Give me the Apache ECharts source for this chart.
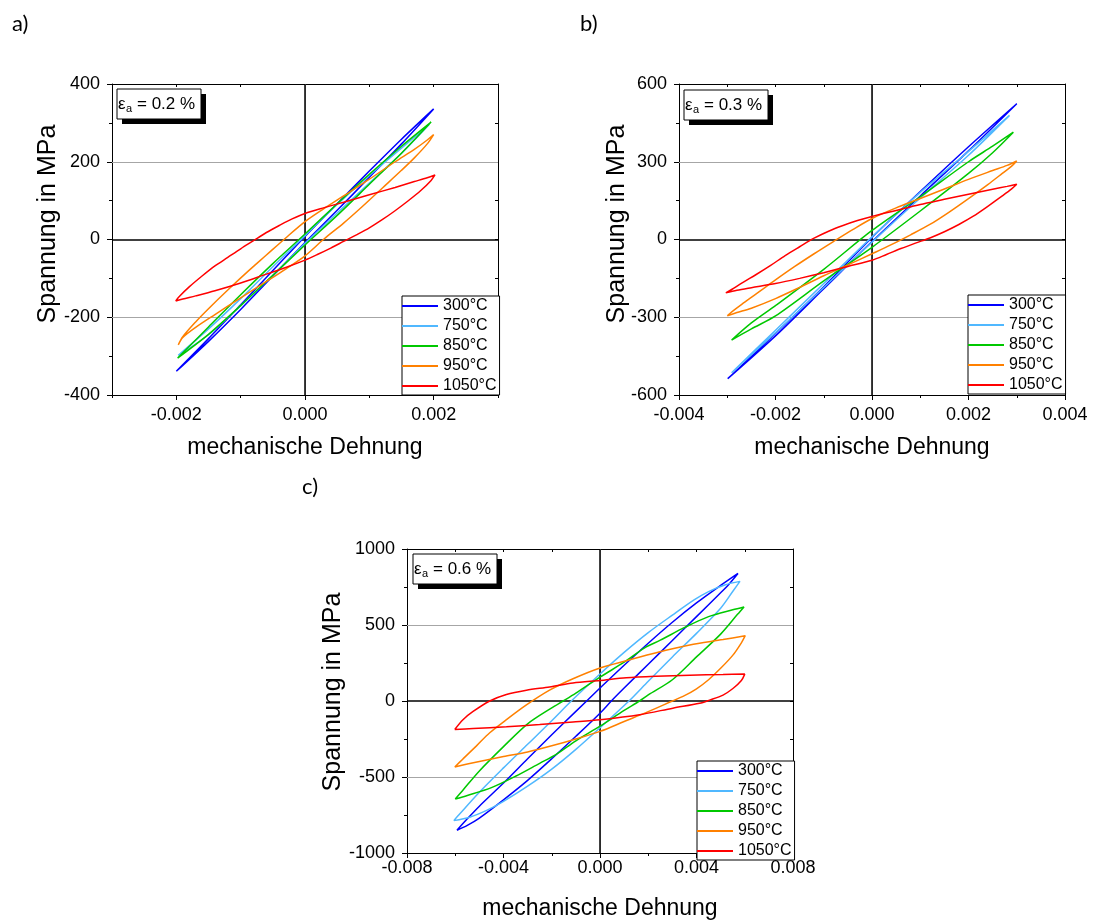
<!DOCTYPE html>
<html>
<head>
<meta charset="utf-8">
<script src="https://cdn.jsdelivr.net/npm/echarts@6/dist/echarts.min.js"></script>
<style>
html,body{margin:0;padding:0;background:#fff;}
#chart{width:1093px;height:921px;}
</style>
</head>
<body>
<div id="chart"></div>
<script>
// ---------- categories / labels ----------
const temps = ['300°C', '750°C', '850°C', '950°C', '1050°C'];
const colors = ['#0000FF', '#50B8FF', '#00C800', '#FF8000', '#FF0000'];
const panelLabels = ['a)', 'b)', 'c)'];
const ampLabels = ['0.2 %', '0.3 %', '0.6 %'];
const xTitle = 'mechanische Dehnung';
const yTitle = 'Spannung in MPa';

// ---------- axis ranges / ticks ----------
const aXRange = [-0.003, 0.003];
const aXMajor = [-0.002, 0, 0.002];
const aYRange = [-400, 400];
const bXRange = [-0.004, 0.004];
const bYRange = [-600, 600];
const cXRange = [-0.008, 0.008];
const cYRange = [-1000, 1000];
const aGridX = [-0.002, 0.002], aGridY = [-200, 200];
const bGridX = [-0.002, 0.002], bGridY = [-300, 300];
const cGridX = [-0.004, 0.004], cGridY = [-500, 500];

// ---------- panel a (ea = 0.2 %) ----------
const a300 = [[-0.002,-339],[-0.0015,-255],[-0.001,-168],[-0.0005,-80],[0,8],[0.0005,92],[0.001,176],[0.0015,258],[0.002,336],
  [0.0015,246],[0.001,160],[0.0005,75],[0,-8],[-0.0005,-94],[-0.001,-180],[-0.0015,-262],[-0.002,-339]];
const a750 = [[-0.00197,-298],[-0.0015,-230],[-0.001,-152],[-0.0005,-70],[0,10],[0.0005,90],[0.001,165],[0.0015,235],[0.00193,296],
  [0.0015,222],[0.001,145],[0.0005,68],[0,-10],[-0.0005,-92],[-0.001,-170],[-0.0015,-245],[-0.00197,-298]];
const a850 = [[-0.00198,-305],[-0.0015,-225],[-0.001,-142],[-0.0005,-62],[0,14],[0.0005,92],[0.001,168],[0.0015,240],[0.00196,302],
  [0.0015,222],[0.001,142],[0.0005,62],[0,-14],[-0.0005,-92],[-0.001,-170],[-0.0015,-244],[-0.00198,-305]];
const a950 = [[-0.00197,-271],[-0.0019,-250],[-0.0017,-212],[-0.0015,-178],[-0.0012,-130],[-0.0009,-84],[-0.0006,-40],[-0.0003,4],[0,46],[0.0003,80],[0.0006,112],[0.001,155],[0.0014,200],[0.0017,232],[0.0019,256],[0.002,270],
  [0.0019,246],[0.0017,210],[0.0015,178],[0.0012,132],[0.0009,86],[0.0006,42],[0.0003,2],[0,-42],[-0.0003,-76],[-0.0006,-108],[-0.001,-150],[-0.0014,-193],[-0.0017,-226],[-0.0019,-252],[-0.00197,-271]];
const a1050 = [[-0.00201,-158],[-0.00195,-146],[-0.0018,-122],[-0.0016,-94],[-0.0014,-68],[-0.0012,-46],[-0.001,-24],[-0.0008,-3],[-0.0006,18],[-0.0004,36],[-0.0002,53],[0,67],[0.0003,82],[0.0006,96],[0.001,115],[0.0014,134],[0.0017,149],[0.0019,159],[0.00202,166],
  [0.00196,152],[0.0018,126],[0.0016,99],[0.0014,74],[0.0012,51],[0.001,30],[0.0008,12],[0.0006,-5],[0.0004,-22],[0.0002,-38],[0,-53],[-0.0003,-72],[-0.0006,-89],[-0.001,-112],[-0.0014,-132],[-0.0017,-145],[-0.0019,-153],[-0.00201,-158]];

// ---------- panel b (ea = 0.3 %) ----------
const b300 = [[-0.00299,-537],[-0.002,-362],[-0.001,-182],[0,8],[0.001,185],[0.002,358],[0.003,524],
  [0.002,342],[0.001,168],[0,-8],[-0.001,-190],[-0.002,-372],[-0.00299,-537]];
const b750 = [[-0.00291,-514],[-0.002,-350],[-0.001,-170],[0,10],[0.001,182],[0.002,340],[0.00285,479],
  [0.002,325],[0.001,160],[0,-10],[-0.001,-185],[-0.002,-360],[-0.00291,-514]];
const b850 = [[-0.00291,-388],[-0.0025,-322],[-0.002,-255],[-0.001,-115],[0,35],[0.001,165],[0.002,300],[0.0025,360],[0.00293,414],
  [0.0025,335],[0.002,255],[0.001,110],[0,-30],[-0.001,-160],[-0.002,-295],[-0.0025,-345],[-0.00291,-388]];
const b950 = [[-0.003,-294],[-0.0029,-278],[-0.0027,-250],[-0.0024,-210],[-0.002,-156],[-0.0016,-104],[-0.0012,-55],[-0.0008,-8],[-0.0004,38],[0,81],[0.0005,122],[0.001,158],[0.0015,195],[0.002,232],[0.0025,266],[0.0028,286],[0.003,303],
  [0.0029,284],[0.0027,255],[0.0024,212],[0.002,158],[0.0016,106],[0.0012,58],[0.0008,18],[0.0004,-20],[0,-55],[-0.0005,-98],[-0.001,-140],[-0.0015,-185],[-0.002,-228],[-0.0025,-265],[-0.0028,-282],[-0.003,-294]];
const b1050 = [[-0.00303,-206],[-0.0029,-192],[-0.0027,-168],[-0.0024,-135],[-0.0021,-100],[-0.0018,-62],[-0.0015,-28],[-0.0012,5],[-0.0009,32],[-0.0006,54],[-0.0003,73],[0,89],[0.0005,112],[0.001,135],[0.0015,155],[0.002,175],[0.0025,194],[0.0028,205],[0.003,213],
  [0.0029,196],[0.0027,168],[0.0024,128],[0.0021,90],[0.0018,58],[0.0015,30],[0.0012,6],[0.0009,-14],[0.0006,-35],[0.0003,-58],[0,-80],[-0.0005,-104],[-0.001,-128],[-0.0015,-150],[-0.002,-170],[-0.0025,-186],[-0.0028,-196],[-0.00303,-206]];

// ---------- panel c (ea = 0.6 %) ----------
const c300 = [[-0.00593,-850],[-0.0055,-775],[-0.005,-692],[-0.004,-540],[-0.003,-380],[-0.002,-222],[-0.001,-68],[0,85],[0.001,235],[0.002,380],[0.003,518],[0.004,645],[0.005,760],[0.00572,839],
  [0.0053,760],[0.005,712],[0.004,555],[0.003,398],[0.002,242],[0.001,85],[0.00047,0],[0,-80],[-0.001,-232],[-0.002,-380],[-0.003,-522],[-0.004,-650],[-0.005,-770],[-0.0055,-818],[-0.00593,-850]];
const c750 = [[-0.00606,-787],[-0.0058,-740],[-0.005,-600],[-0.004,-440],[-0.003,-285],[-0.002,-130],[-0.00119,0],[0,178],[0.001,320],[0.002,450],[0.003,565],[0.0039,665],[0.0045,720],[0.0052,765],[0.0058,787],
  [0.0055,720],[0.005,610],[0.004,445],[0.003,290],[0.002,130],[0.0012,0],[0,-176],[-0.001,-318],[-0.002,-448],[-0.003,-560],[-0.004,-660],[-0.0047,-720],[-0.0054,-765],[-0.00606,-787]];
const c850 = [[-0.006,-645],[-0.0057,-590],[-0.005,-460],[-0.004,-300],[-0.003,-150],[-0.002,-45],[-0.00153,0],[-0.001,52],[0,157],[0.001,255],[0.00185,350],[0.0025,400],[0.00351,484],[0.0045,555],[0.0055,600],[0.00597,619],
  [0.0057,570],[0.005,440],[0.004,290],[0.003,140],[0.002,40],[0.00164,0],[0.001,-62],[0,-166],[-0.001,-262],[-0.00185,-355],[-0.0025,-410],[-0.0035,-495],[-0.0045,-570],[-0.0055,-622],[-0.006,-645]];
const c950 = [[-0.00602,-434],[-0.00568,-381],[-0.00512,-295],[-0.00457,-209],[-0.00388,-123],[-0.00305,-26],[-0.00209,71],[-0.00112,146],[0,217],[0.00109,265],[0.00233,318],[0.00372,368],[0.0051,404],[0.00602,430],
  [0.00586,383],[0.0055,300],[0.005,215],[0.0045,140],[0.004,80],[0.0035,35],[0.003,0],[0.002,-70],[0.001,-135],[0,-200],[-0.001,-250],[-0.002,-295],[-0.003,-335],[-0.004,-365],[-0.005,-398],[-0.0055,-415],[-0.00602,-434]];
const c1050 = [[-0.00602,-187],[-0.00568,-123],[-0.00526,-69],[-0.00457,0],[-0.00388,43],[-0.00305,71],[-0.00209,92],[-0.00112,118],[0,135],[0.00109,153],[0.00233,163],[0.00372,170],[0.0051,174],[0.006,177],
  [0.00586,135],[0.00551,82],[0.0051,39],[0.00454,6],[0.00413,-15],[0.00302,-47],[0.00164,-90],[0,-123],[-0.00112,-138],[-0.0025,-155],[-0.00388,-170],[-0.00526,-181],[-0.00602,-187]];

const panelA = [a300, a750, a850, a950, a1050];
const panelB = [b300, b750, b850, b950, b1050];
const panelC = [c300, c750, c850, c950, c1050];

// ---------- chart ----------
const FONT = 'Liberation Sans, Arial, sans-serif';
const black = '#000';
const fmtX = v => (Math.abs(v) < 1e-12 ? 0 : v).toFixed(3);
const fmtY = v => String(Math.round(v));

function mainX(grid, range, interval, withMinor, labelMargin, nameGap, custom) {
  const ax = {
    gridIndex: grid, type: 'value', position: 'bottom', min: range[0], max: range[1], interval: interval,
    axisLine: {show: true, onZero: false, lineStyle: {color: black, width: 1}},
    axisTick: {show: true, length: 5, inside: false, lineStyle: {color: black}},
    minorTick: {show: withMinor, splitNumber: 2, length: 3, lineStyle: {color: black}},
    axisLabel: {show: true, formatter: fmtX, margin: labelMargin, color: black, fontSize: 18, fontFamily: FONT, showMinLabel: true, showMaxLabel: true},
    splitLine: {show: false},
    name: xTitle, nameLocation: 'middle', nameGap: nameGap,
    nameTextStyle: {fontSize: 23, fontFamily: FONT, color: black}
  };
  if (custom) {
    ax.axisTick.customValues = custom;
    ax.axisLabel.customValues = custom;
  }
  return ax;
}
function plainX(grid, range, interval, pos, inside, showLine) {
  return {
    gridIndex: grid, type: 'value', position: pos, min: range[0], max: range[1], interval: interval,
    axisLine: {show: showLine, onZero: false, lineStyle: {color: black, width: 1}},
    axisTick: {show: true, length: 3, inside: inside, lineStyle: {color: black}},
    axisLabel: {show: false}, splitLine: {show: false}
  };
}
function mainY(grid, range, interval) {
  return {
    gridIndex: grid, type: 'value', position: 'left', min: range[0], max: range[1], interval: interval,
    axisLine: {show: true, onZero: false, lineStyle: {color: black, width: 1}},
    axisTick: {show: true, length: 5, inside: false, lineStyle: {color: black}},
    minorTick: {show: true, splitNumber: 2, length: 3, lineStyle: {color: black}},
    axisLabel: {show: true, formatter: fmtY, margin: 12, color: black, fontSize: 18, fontFamily: FONT, showMinLabel: true, showMaxLabel: true},
    splitLine: {show: false}
  };
}
function mirrorY(grid, range, interval) {
  return {
    gridIndex: grid, type: 'value', position: 'right', min: range[0], max: range[1], interval: interval,
    axisLine: {show: true, onZero: false, lineStyle: {color: black, width: 1}},
    axisTick: {show: true, length: 3, inside: true, lineStyle: {color: black}},
    axisLabel: {show: false}, splitLine: {show: false}
  };
}

const xAxis = [
  mainX(0, aXRange, 0.001, false, 11, 41, aXMajor),        // 0
  plainX(0, aXRange, 0.001, 'bottom', false, false),       // 1 minor ticks a
  plainX(0, aXRange, 0.001, 'top', true, true),            // 2
  mainX(1, bXRange, 0.002, true, 11, 41, null),            // 3
  plainX(1, bXRange, 0.001, 'top', true, true),            // 4
  mainX(2, cXRange, 0.004, true, 6, 44, null),             // 5
  plainX(2, cXRange, 0.002, 'top', true, true)             // 6
];
const yAxis = [
  mainY(0, aYRange, 200), mirrorY(0, aYRange, 100),
  mainY(1, bYRange, 300), mirrorY(1, bYRange, 150),
  mainY(2, cYRange, 500), mirrorY(2, cYRange, 250)
];

const panels = [
  {data: panelA, xi: 0, yi: 0, gx: aGridX, gy: aGridY},
  {data: panelB, xi: 3, yi: 2, gx: bGridX, gy: bGridY},
  {data: panelC, xi: 5, yi: 4, gx: cGridX, gy: cGridY}
];

const series = [];
panels.forEach(p => {
  const gray = {color: '#a6a6a6', width: 1, type: 'solid'};
  const zero = {color: black, width: 1.5, type: 'solid'};
  const ml = [];
  p.gx.forEach(v => ml.push({xAxis: v, lineStyle: gray}));
  p.gy.forEach(v => ml.push({yAxis: v, lineStyle: gray}));
  ml.push({xAxis: 0, lineStyle: zero});
  ml.push({yAxis: 0, lineStyle: zero});
  series.push({
    type: 'line', name: '_grid', data: [[0, 0]], xAxisIndex: p.xi, yAxisIndex: p.yi,
    showSymbol: false, symbol: 'none', lineStyle: {width: 0}, silent: true, z: 1,
    markLine: {silent: true, symbol: ['none', 'none'], z: 1, label: {show: false}, animation: false, data: ml}
  });
  p.data.forEach((d, i) => {
    series.push({
      type: 'line', name: temps[i], data: d, xAxisIndex: p.xi, yAxisIndex: p.yi,
      showSymbol: false, symbol: 'none', smooth: 0.3, z: 3,
      lineStyle: {color: colors[i], width: 1.5}, itemStyle: {color: colors[i]}
    });
  });
});

const legendBase = {
  orient: 'vertical', data: temps, itemWidth: 36, itemHeight: 16, itemGap: 4,
  icon: 'path://M0,0 L36,0 L36,2 L0,2 Z',
  padding: [2, 3, 1, 0], borderColor: black, borderWidth: 1, backgroundColor: '#fff',
  borderRadius: 0, selectedMode: false,
  textStyle: {fontSize: 16, fontFamily: FONT, color: black, lineHeight: 16},
  z: 10
};
const legend = [
  Object.assign({}, legendBase, {left: 402, top: 296}),
  Object.assign({}, legendBase, {left: 968, top: 295}),
  Object.assign({}, legendBase, {left: 697, top: 761})
];

const boxes = [[117, 89], [684, 90], [413, 554]];
const graphic = [];
boxes.forEach((b, i) => {
  graphic.push({type: 'rect', z: 20, shape: {x: b[0] + 5, y: b[1] + 5, width: 84, height: 30}, style: {fill: black}});
  graphic.push({type: 'rect', z: 21, shape: {x: b[0], y: b[1], width: 84, height: 30}, style: {fill: '#fff', stroke: black, lineWidth: 1}});
  graphic.push({type: 'text', z: 22, x: b[0] + 1, y: b[1] + 15, style: {text: 'ε', fontSize: 17, fontFamily: FONT, fill: black, align: 'left', verticalAlign: 'middle'}});
  graphic.push({type: 'text', z: 22, x: b[0] + 9, y: b[1] + 20, style: {text: 'a', fontSize: 11, fontFamily: FONT, fill: black, align: 'left', verticalAlign: 'middle'}});
  graphic.push({type: 'text', z: 22, x: b[0] + 20, y: b[1] + 15, style: {text: '= ' + ampLabels[i], fontSize: 17, fontFamily: FONT, fill: black, align: 'left', verticalAlign: 'middle'}});
});
const panelLabelPos = [[12, 24], [580, 24], [302, 487]];
panelLabelPos.forEach((p, i) => {
  graphic.push({type: 'text', x: p[0], y: p[1], style: {text: panelLabels[i], fontSize: 22, fontFamily: 'Lato, Open Sans, sans-serif', fill: black, align: 'left', verticalAlign: 'middle'}});
});
const yTitlePos = [[48, 224], [617, 224], [333, 692]];
yTitlePos.forEach(p => {
  graphic.push({type: 'text', x: p[0], y: p[1], rotation: Math.PI / 2, style: {text: yTitle, fontSize: 25, fontFamily: FONT, fill: black, align: 'center', verticalAlign: 'middle'}});
});

const option = {
  backgroundColor: '#fff',
  animation: false,
  grid: [
    {left: 112, top: 84, width: 386, height: 311, containLabel: false},
    {left: 679, top: 84, width: 386, height: 311, containLabel: false},
    {left: 407, top: 549, width: 386, height: 310, containLabel: false}
  ],
  xAxis: xAxis,
  yAxis: yAxis,
  legend: legend,
  series: series,
  graphic: graphic
};
const chart = echarts.init(document.getElementById('chart'), null, {renderer: 'canvas'});
chart.setOption(option);
</script>
</body>
</html>
